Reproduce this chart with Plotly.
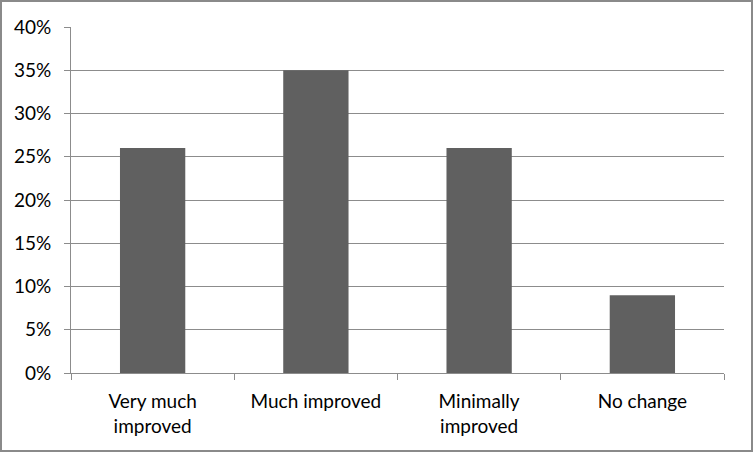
import plotly.graph_objects as go

# Data
categories = ["Very much<br>improved", "Much improved", "Minimally<br>improved", "No change"]
values = [0.26, 0.35, 0.26, 0.09]
y_ticks = [0, 0.05, 0.10, 0.15, 0.20, 0.25, 0.30, 0.35, 0.40]
y_tick_labels = ["0%", "5%", "10%", "15%", "20%", "25%", "30%", "35%", "40%"]

W, H = 753, 452
M = dict(l=71, r=29, t=27, b=79, pad=0)
GRID = "#8c8c8c"

fig = go.Figure()
fig.add_trace(go.Bar(
    x=categories, y=values,
    marker=dict(color="#606060", line=dict(width=0)),
    width=0.4,
))

fig.update_layout(
    width=W, height=H,
    margin=M,
    paper_bgcolor="white",
    plot_bgcolor="white",
    showlegend=False,
    font=dict(family="Lato, 'Open Sans', sans-serif", size=19, color="#000000"),
)
fig.update_xaxes(
    type="category",
    showgrid=False,
    showline=True, linecolor=GRID, linewidth=1,
    ticks="outside", ticklen=6, tickcolor=GRID, tickwidth=1,
    tickson="boundaries",
    ticklabelstandoff=11,
)
fig.update_yaxes(
    range=[0, 0.4],
    tickvals=y_ticks, ticktext=y_tick_labels,
    showgrid=True, gridcolor=GRID, gridwidth=1,
    showline=True, linecolor=GRID, linewidth=1,
    ticks="outside", ticklen=6, tickcolor=GRID, tickwidth=1,
    zeroline=False,
    ticklabelstandoff=9,
)

# outer frame around the whole picture
pw = W - M["l"] - M["r"]
ph = H - M["t"] - M["b"]
fig.add_shape(
    type="rect", xref="paper", yref="paper",
    x0=-(M["l"] - 1) / pw, x1=1 + (M["r"] - 1) / pw,
    y0=-(M["b"] - 1) / ph, y1=1 + (M["t"] - 1) / ph,
    line=dict(color="#8a8a8a", width=2),
    layer="above",
)

fig.write_html(
    "out.html",
    config={"displayModeBar": False},
    post_script="document.body.style.margin='0';",
)
